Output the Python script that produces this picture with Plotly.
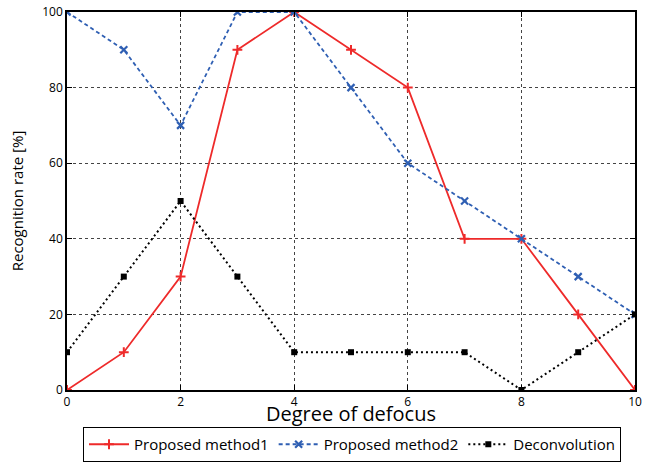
import plotly.graph_objects as go

defocus = list(range(11))
method1 = [0, 10, 30, 90, 100, 90, 80, 40, 40, 20, 0]
method2 = [100, 90, 70, 100, 100, 80, 60, 50, 40, 30, 20]
deconv = [10, 30, 50, 30, 10, 10, 10, 10, 0, 10, 20]

font = "Open Sans, Liberation Sans, sans-serif"

fig = go.Figure()
fig.add_trace(go.Scatter(x=defocus, y=method1, name="Proposed method1", mode="lines+markers",
                         line=dict(color="#ee2a2a", width=1.8),
                         marker=dict(symbol="cross-thin", size=7, line=dict(color="#ee2a2a", width=2))))
fig.add_trace(go.Scatter(x=defocus, y=method2, name="Proposed method2", mode="lines+markers",
                         line=dict(color="#2f5fb3", width=1.8, dash="4px,3px"),
                         marker=dict(symbol="x-thin", size=7, line=dict(color="#2f5fb3", width=2.2))))
fig.add_trace(go.Scatter(x=defocus, y=deconv, name="Deconvolution", mode="lines+markers",
                         line=dict(color="black", width=2, dash="2px,3px"),
                         marker=dict(symbol="square", size=6, color="black")))

fig.update_layout(
    width=653, height=463,
    margin=dict(l=67, r=18, t=12, b=73),
    paper_bgcolor="white", plot_bgcolor="white",
    font=dict(family=font, color="black", size=12),
    showlegend=True,
    legend=dict(orientation="h", x=352 / 653, xanchor="center", xref="container",
                y=1 - 427 / 463, yanchor="top", yref="container",
                bordercolor="black", borderwidth=1, font=dict(size=15, family=font),
                itemwidth=40, bgcolor="white"),
)
fig.update_xaxes(range=[0, 10], dtick=2, showgrid=True, gridcolor="#444", griddash="dot", gridwidth=1,
                 showline=True, linecolor="black", linewidth=1.5, mirror="ticks",
                 ticks="inside", ticklen=5, tickcolor="black", zeroline=False, automargin=False,
                 tickfont=dict(size=12),
                 title=dict(text="Degree of defocus", font=dict(size=20)))
fig.update_yaxes(range=[0, 100], dtick=20, showgrid=True, gridcolor="#444", griddash="dot", gridwidth=1,
                 showline=True, linecolor="black", linewidth=1.5, mirror="ticks",
                 ticks="inside", ticklen=5, tickcolor="black", zeroline=False, automargin=False,
                 tickfont=dict(size=12),
                 title=dict(text="Recognition rate [%]", font=dict(size=15)))

fig.write_html("out.html", config={"displayModeBar": False},
               post_script="document.body.style.margin='0px';")
